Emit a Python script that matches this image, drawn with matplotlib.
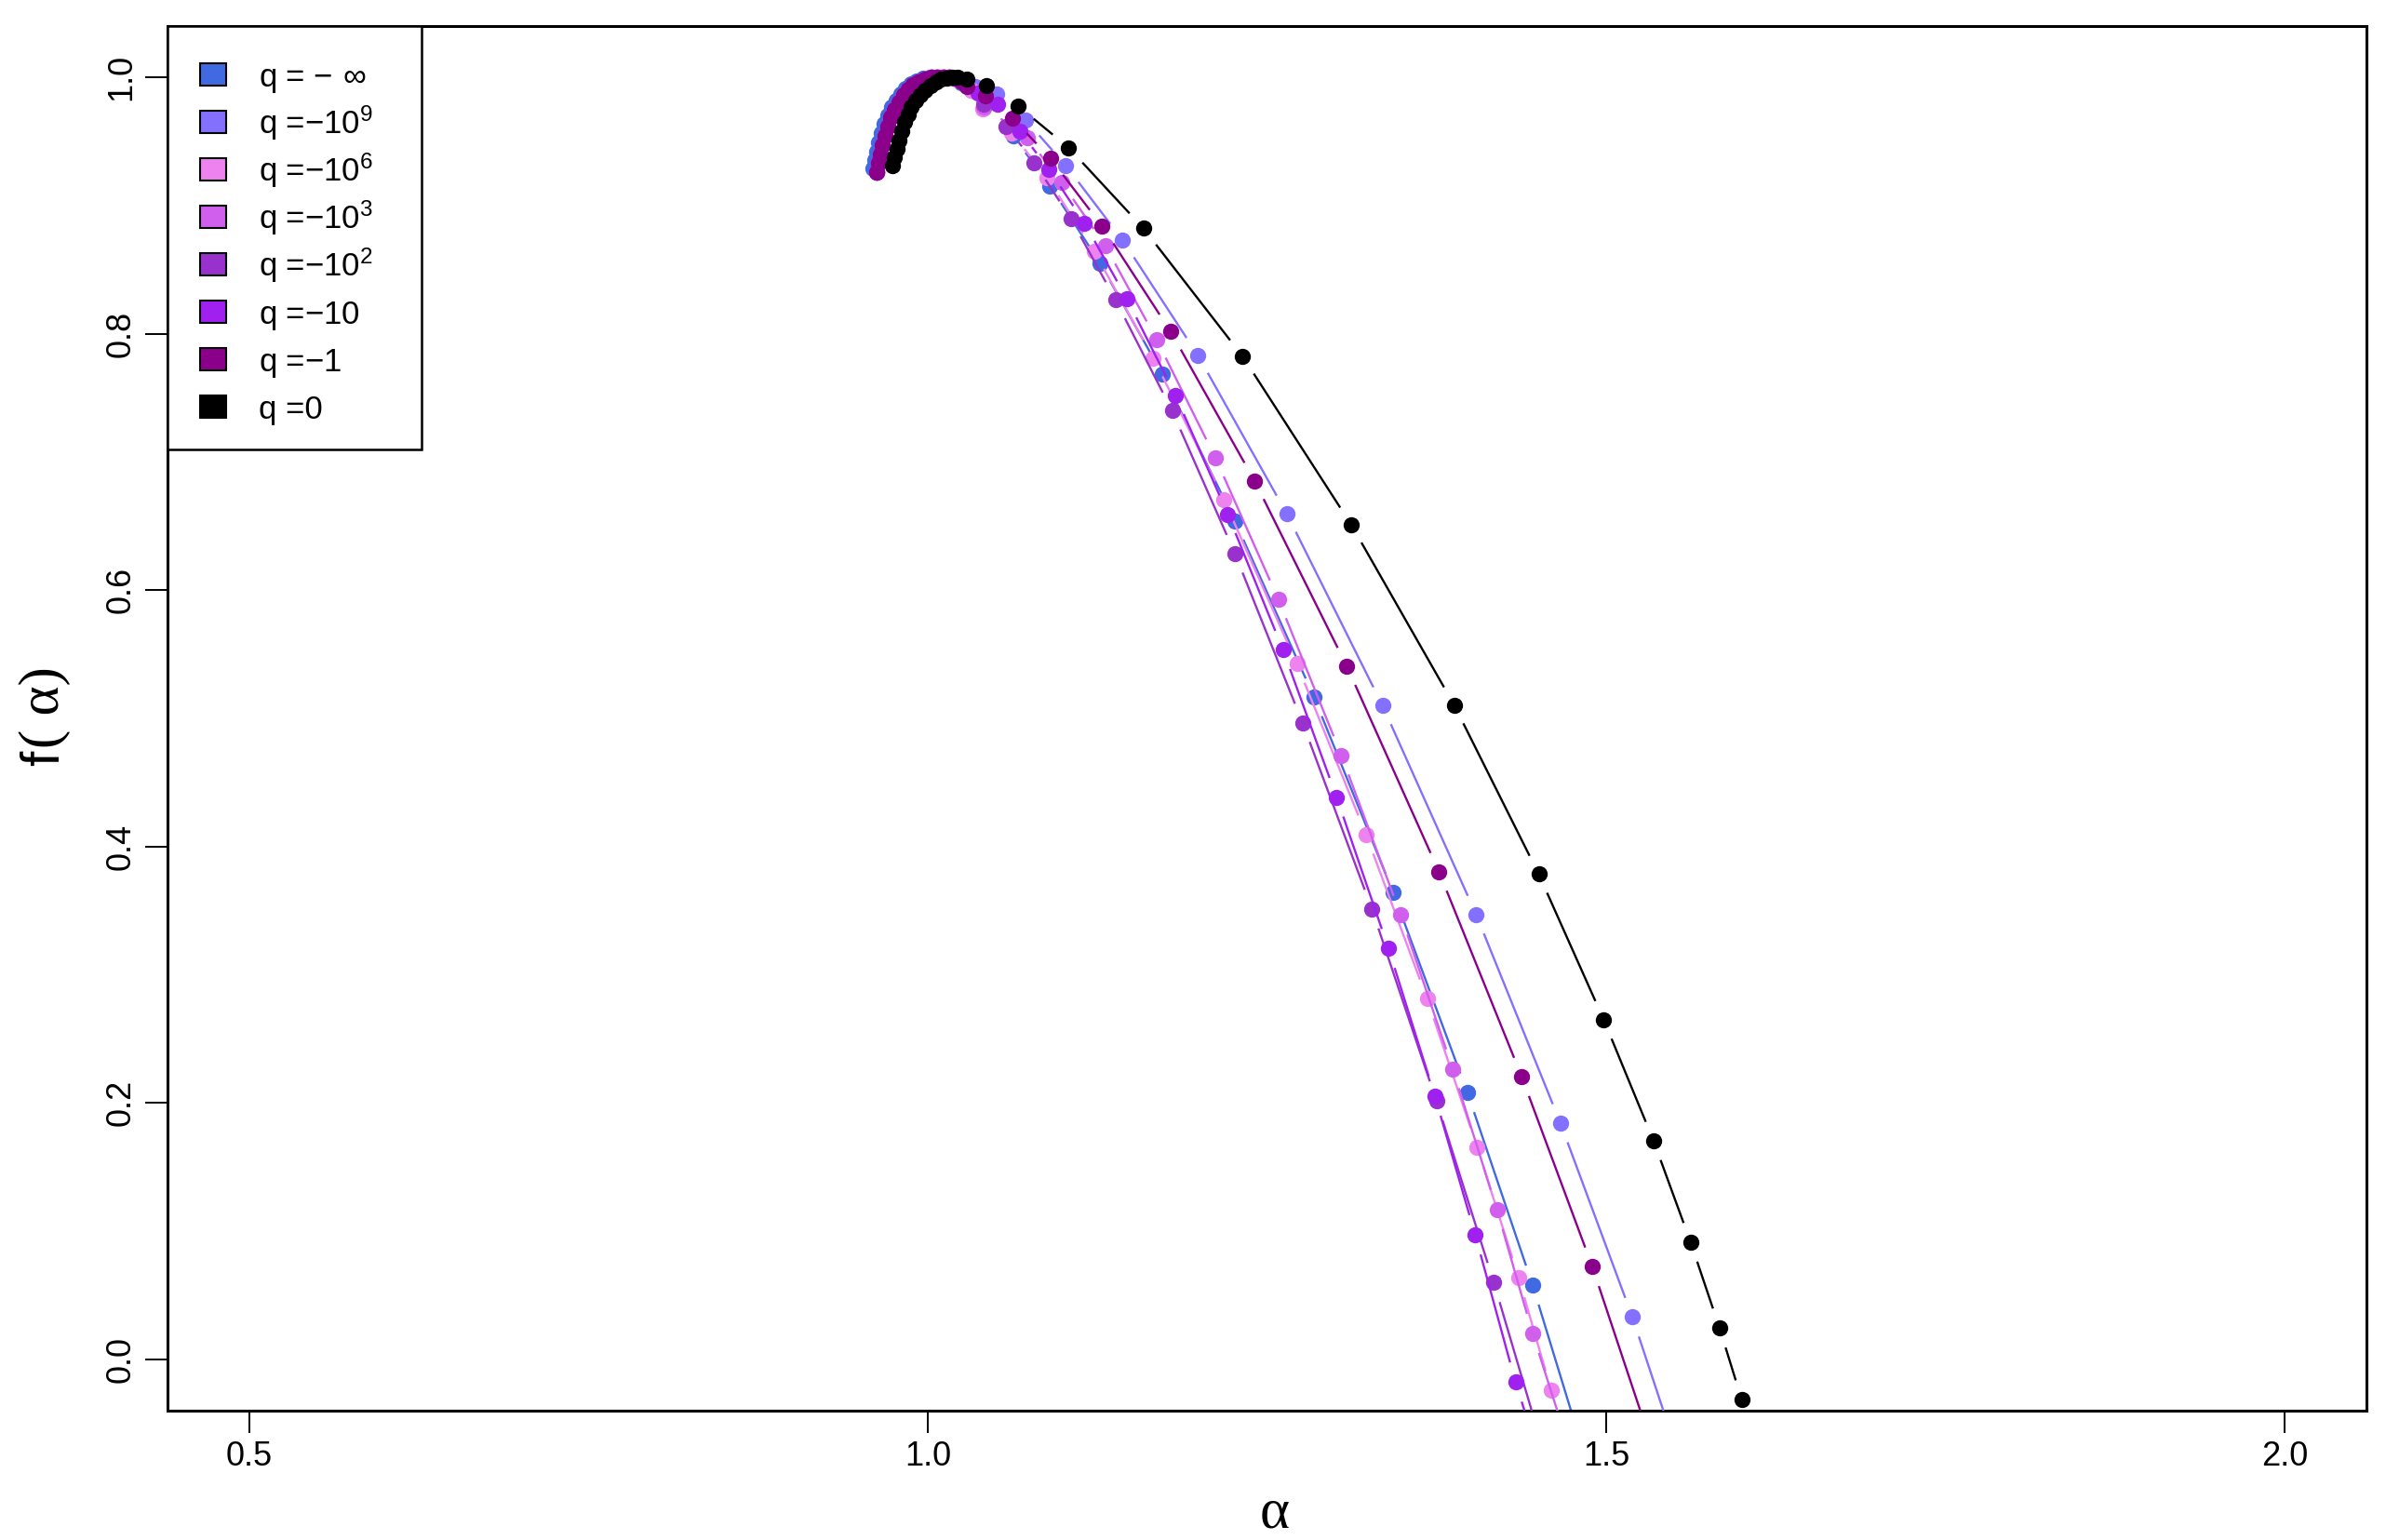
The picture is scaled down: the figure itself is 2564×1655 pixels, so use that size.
import numpy as np
import matplotlib
matplotlib.use("Agg")
import matplotlib.pyplot as plt
from matplotlib.collections import LineCollection
from matplotlib.patches import Rectangle

plt.rcParams['font.family'] = ['Liberation Sans', 'DejaVu Sans']
plt.rcParams['mathtext.fontset'] = 'custom'
plt.rcParams['mathtext.rm'] = 'Liberation Sans'

# dense part near the maximum (shared by the coloured spectra)
alpha_band = [0.9626, 0.9637, 0.9649, 0.9665, 0.9683, 0.9705, 0.9729, 0.9756, 0.9786, 0.9820,
              0.9854, 0.9893, 0.9935, 0.9980, 1.0026, 1.0070, 1.0117, 1.0157, 1.0197, 1.0254]
f_band = [0.9263, 0.9330, 0.9396, 0.9470, 0.9541, 0.9615, 0.9687, 0.9750, 0.9808, 0.9860,
          0.9904, 0.9940, 0.9965, 0.9985, 1.0000, 1.0000, 1.0000, 1.0000, 0.9995, 0.9965]

alpha_band_inf = [0.9598, 0.9610, 0.9623, 0.9640, 0.9659, 0.9682, 0.9707, 0.9735, 0.9766, 0.9800,
                  0.9836, 0.9876, 0.9920, 0.9966, 1.0012, 1.0060, 1.0108, 1.0150, 1.0192, 1.0250, 1.0320]
f_band_inf = [0.9290, 0.9355, 0.9420, 0.9492, 0.9563, 0.9635, 0.9705, 0.9766, 0.9822, 0.9872,
              0.9914, 0.9948, 0.9972, 0.9990, 1.0000, 1.0000, 1.0000, 0.9998, 0.9990, 0.9960, 0.9900]

alpha_band_0 = [0.9740, 0.9755, 0.9774, 0.9790, 0.9809, 0.9830, 0.9854, 0.9880, 0.9911,
                0.9945, 0.9980, 1.0020, 1.0060, 1.0100, 1.0140, 1.0180, 1.0220]
f_band_0 = [0.9310, 0.9380, 0.9444, 0.9510, 0.9578, 0.9650, 0.9711, 0.9770, 0.9820,
            0.9860, 0.9900, 0.9935, 0.9965, 0.9985, 0.9996, 1.0000, 1.0000]

# sparse tails
alpha_qinf = [1.0414, 1.0631, 1.0901, 1.1271, 1.1727, 1.2264, 1.2847, 1.3429, 1.3977, 1.4457, 1.489]
f_qinf = [0.9759, 0.9541, 0.9154, 0.8549, 0.7689, 0.6540, 0.5165, 0.3644, 0.2080, 0.0580, -0.092]

alpha_q1e9 = [1.035, 1.0505, 1.0722, 1.1019, 1.1437, 1.1990, 1.2645, 1.3351, 1.4041, 1.4662, 1.5192, 1.563]
f_q1e9 = [0.993, 0.9868, 0.9667, 0.9311, 0.8730, 0.7834, 0.6598, 0.5100, 0.3470, 0.1843, 0.0330, -0.107]

alpha_q1e6 = [1.0320, 1.0403, 1.0620, 1.0882, 1.1225, 1.1663, 1.2184, 1.2720, 1.3230, 1.3680,
              1.4049, 1.4354, 1.4594, 1.483]
f_q1e6 = [0.9900, 0.9755, 0.9566, 0.9214, 0.8646, 0.7810, 0.6704, 0.5426, 0.4094, 0.2812,
          0.1654, 0.0638, -0.0243, -0.104]

alpha_q1e3 = [1.0415, 1.0734, 1.0985, 1.1309, 1.1686, 1.2120, 1.2583, 1.3048, 1.3486, 1.3868,
              1.4194, 1.4457, 1.482]
f_q1e3 = [0.9770, 0.9530, 0.9183, 0.8687, 0.7956, 0.7033, 0.5930, 0.4712, 0.3465, 0.2267,
          0.1170, 0.0202, -0.100]

alpha_q1e2 = [1.0414, 1.0579, 1.0786, 1.1054, 1.1385, 1.1801, 1.2264, 1.2762, 1.3273, 1.3748, 1.4171, 1.459]
f_q1e2 = [0.9788, 0.9619, 0.9335, 0.8900, 0.8263, 0.7399, 0.6285, 0.4966, 0.3513, 0.2017, 0.0600, -0.090]

alpha_q10 = [1.0370, 1.0512, 1.0677, 1.0894, 1.1156, 1.1469, 1.1826, 1.2211, 1.2618, 1.3013,
             1.3395, 1.3737, 1.4034, 1.4331, 1.463]
f_q10 = [0.9880, 0.9789, 0.9582, 0.9282, 0.8864, 0.8270, 0.7520, 0.6593, 0.5535, 0.4385,
         0.3206, 0.2054, 0.0972, -0.0178, -0.118]

alpha_q1 = [1.0288, 1.0425, 1.0627, 1.0905, 1.1286, 1.1791, 1.2408, 1.3088, 1.3767, 1.4377, 1.4897, 1.537]
f_q1 = [0.9929, 0.9856, 0.9679, 0.9367, 0.8839, 0.8016, 0.6854, 0.5407, 0.3804, 0.2204, 0.0723, -0.078]

alpha_q0 = [1.0288, 1.0430, 1.0665, 1.1038, 1.1590, 1.2321, 1.3121, 1.3879, 1.4502, 1.4981,
            1.5348, 1.5621, 1.5834, 1.5998, 1.6145]
f_q0 = [0.9989, 0.9933, 0.9778, 0.9452, 0.8822, 0.7823, 0.6510, 0.5104, 0.3785, 0.2649,
        0.1705, 0.0914, 0.0245, -0.0316, -0.082]

labels = [r'q = $\mathregular{-\ \infty}$', r'q =$\mathregular{-10^{9}}$', r'q =$\mathregular{-10^{6}}$',
          r'q =$\mathregular{-10^{3}}$', r'q =$\mathregular{-10^{2}}$', r'q =$\mathregular{-10}$',
          r'q =$\mathregular{-1}$', 'q =0']
colors = ['#4169E1', '#8470FF', '#EE82EE', '#D15FEE', '#9932CC', '#A020F0', '#8B008B', '#000000']

series = [
    (alpha_band_inf + alpha_qinf, f_band_inf + f_qinf),
    (alpha_band + alpha_q1e9, f_band + f_q1e9),
    (alpha_band + alpha_q1e6, f_band + f_q1e6),
    (alpha_band + alpha_q1e3, f_band + f_q1e3),
    (alpha_band + alpha_q1e2, f_band + f_q1e2),
    (alpha_band + alpha_q10, f_band + f_q10),
    (alpha_band + alpha_q1, f_band + f_q1),
    (alpha_band_0 + alpha_q0, f_band_0 + f_q0),
]

W, H = 2564, 1655
fig = plt.figure(figsize=(W / 100, H / 100), dpi=100)


def fx(px):
    return px / W


def fy(py):
    return 1 - py / H


ax = fig.add_axes([fx(180), fy(1516), fx(2543) - fx(180), fy(28) - fy(1516)])
ax.set_xlim(0.44, 2.06)
ax.set_ylim(-0.04, 1.04)

gap = 22  # pixels left free around each point (R type = "b")


def draw_b(x, y, color, z):
    pts = ax.transData.transform(np.column_stack([x, y]))
    segs = []
    for p0, p1 in zip(pts[:-1], pts[1:]):
        d = np.hypot(*(p1 - p0))
        if d > 2 * gap:
            u = (p1 - p0) / d
            a = ax.transData.inverted().transform(p0 + u * gap)
            b = ax.transData.inverted().transform(p1 - u * gap)
            segs.append([a, b])
    ax.add_collection(LineCollection(segs, colors=color, linewidths=1.7, zorder=z))
    ax.plot(x, y, 'o', color=color, markersize=12.5, markeredgewidth=0, zorder=z)


for i, ((x, y), c) in enumerate(zip(series, colors)):
    draw_b(x, y, c, 2 + i)

ax.set_xticks([0.5, 1.0, 1.5, 2.0])
ax.set_xticklabels(['0.5', '1.0', '1.5', '2.0'])
ax.set_yticks([0.0, 0.2, 0.4, 0.6, 0.8, 1.0])
ax.set_yticklabels(['0.0', '0.2', '0.4', '0.6', '0.8', '1.0'], rotation=90, va='center')
ax.tick_params(length=17, width=1.4, labelsize=26, pad=6)
for s in ax.spines.values():
    s.set_linewidth(2.2)

# axis labels
fig.text(fx(1370), fy(1627), '\u03b1', family='Liberation Serif', fontsize=44, ha='center', va='center')
fig.text(fx(48), fy(815), 'f', family='Liberation Sans', fontsize=42, rotation=90, ha='center', va='center')
fig.text(fx(48), fy(760), '( \u03b1)', family='Liberation Serif', fontsize=44, rotation=90,
         ha='center', va='center')

# legend
fig.patches.append(Rectangle((fx(180), fy(483)), fx(453) - fx(180), fy(28) - fy(483),
                             transform=fig.transFigure, fill=True, facecolor='white',
                             edgecolor='black', linewidth=1.8, zorder=20))
for k, (lab, c) in enumerate(zip(labels, colors)):
    yc = 80 + 51 * k
    fig.patches.append(Rectangle((fx(215), fy(yc + 12)), fx(28), 24 / H, transform=fig.transFigure,
                                 facecolor=c, edgecolor='black', linewidth=1.5, zorder=21))
    fig.text(fx(278), fy(yc + 13), lab, fontsize=25, ha='left', va='baseline', zorder=22)

fig.savefig('out.png', dpi=100)
